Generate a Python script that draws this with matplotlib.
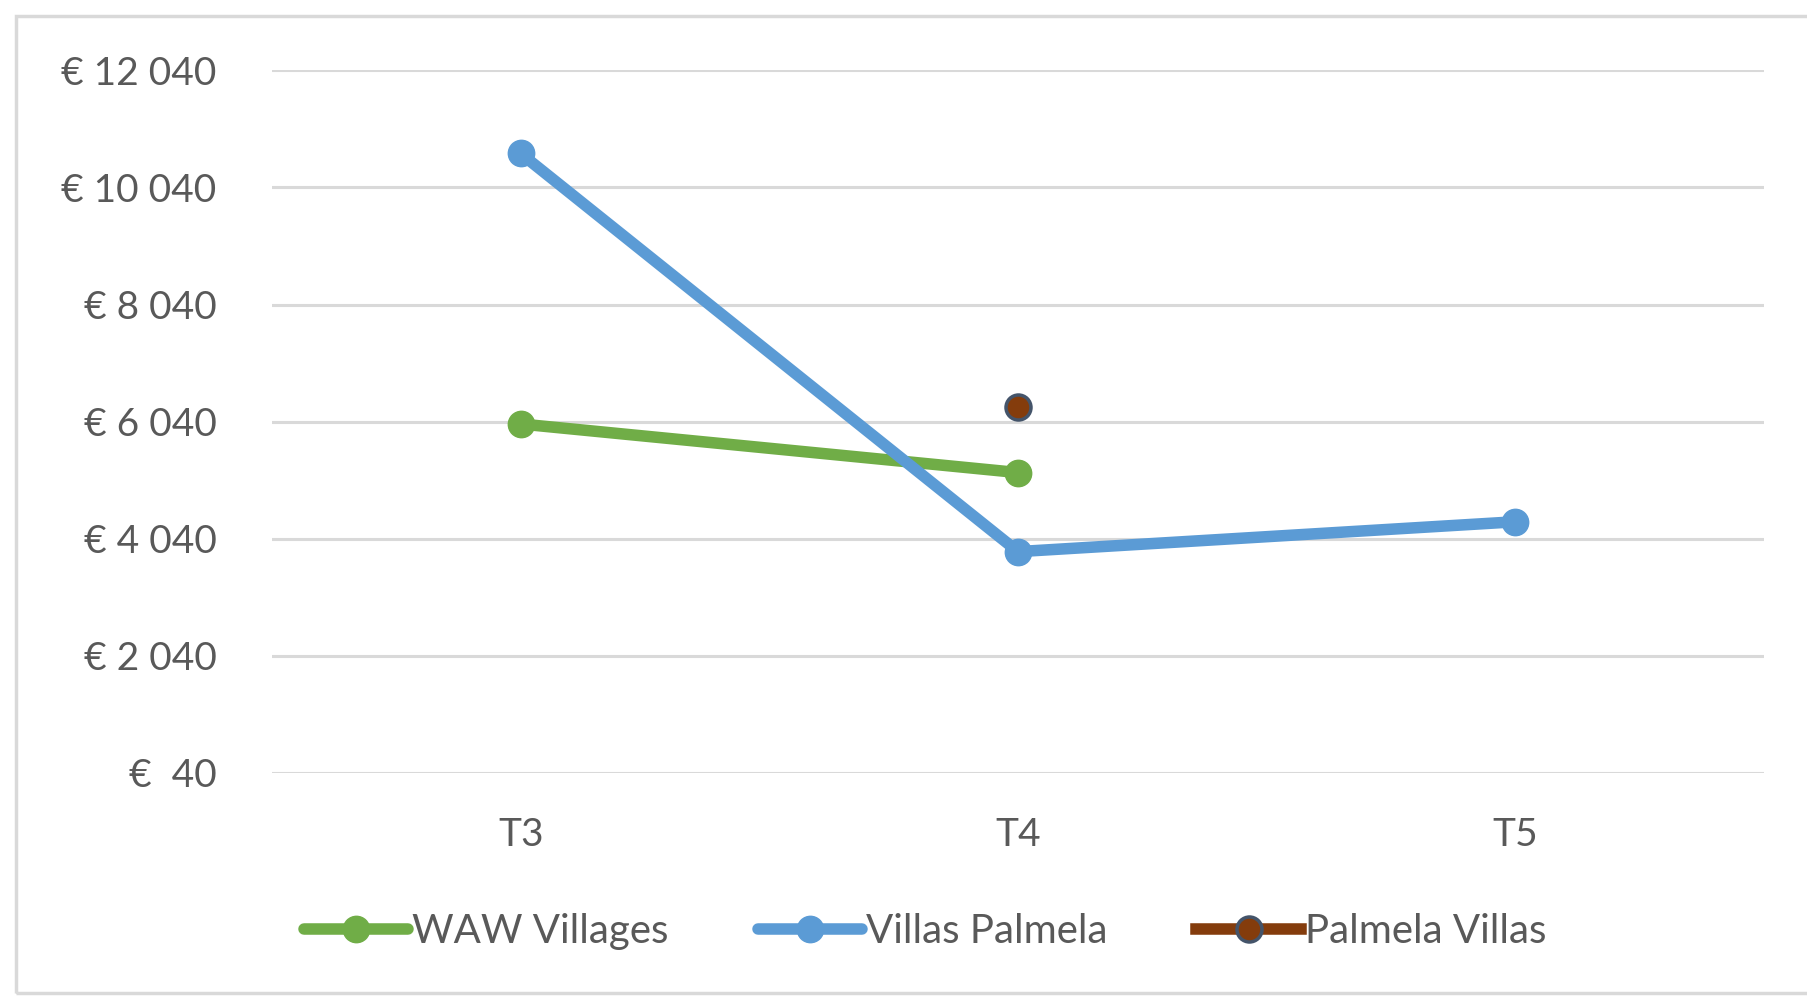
import numpy as np
import matplotlib
matplotlib.use("Agg")
import matplotlib.pyplot as plt
from matplotlib.patches import Rectangle

categories = ["T3", "T4", "T5"]
waw_villages = [6000, 5170, np.nan]
villas_palmela = [10620, 3820, 4330]
palmela_villas = [np.nan, 6290, np.nan]
y_ticks = [40, 2040, 4040, 6040, 8040, 10040, 12040]
y_tick_labels = ["€  40", "€ 2 040", "€ 4 040", "€ 6 040", "€ 8 040", "€ 10 040", "€ 12 040"]

plt.rcParams["font.family"] = ["Lato", "DejaVu Sans"]
TEXT = "#595959"

fig = plt.figure(figsize=(18.07, 9.97), dpi=100)
# light chart-area frame, running off the right edge like the screenshot
fig.patches.append(Rectangle((16 / 1807, 4 / 997), 1.05, 977 / 997, transform=fig.transFigure,
                             fill=False, edgecolor="#D9D9D9", linewidth=2.5))
ax = fig.add_axes([0.1505, 0.2247, 0.8257, 0.7048])

x = np.arange(len(categories))
ax.plot(x, waw_villages, color="#70AD47", lw=8.3, marker="o", ms=19,
        solid_capstyle="round", label="WAW Villages", zorder=3)
ax.plot(x, villas_palmela, color="#5B9BD5", lw=8.3, marker="o", ms=19,
        solid_capstyle="round", label="Villas Palmela", zorder=3)
ax.plot(x, palmela_villas, color="#843C0C", lw=8.3, marker="o", ms=18,
        markerfacecolor="#843C0C", markeredgecolor="#44546A", markeredgewidth=2.5,
        label="Palmela Villas", zorder=4)

ax.set_xlim(-0.5, 2.5)
ax.set_ylim(40, 12040)
ax.set_yticks(y_ticks)
ax.set_yticklabels(y_tick_labels)
ax.set_xticks(x)
ax.set_xticklabels(categories)
ax.yaxis.grid(True, color="#D9D9D9", lw=2.2)
ax.set_axisbelow(True)
for s in ax.spines.values():
    s.set_visible(False)
ax.tick_params(axis="both", length=0, labelsize=28, labelcolor=TEXT)
ax.tick_params(axis="y", pad=40)
ax.tick_params(axis="x", pad=32)

leg = fig.legend(loc="center", bbox_to_anchor=(0.512, 0.066), ncol=3, frameon=False,
                 fontsize=29, handlelength=2.6, columnspacing=2.2, handletextpad=0.1,
                 labelcolor=TEXT)

fig.savefig("out.png", dpi=100)
